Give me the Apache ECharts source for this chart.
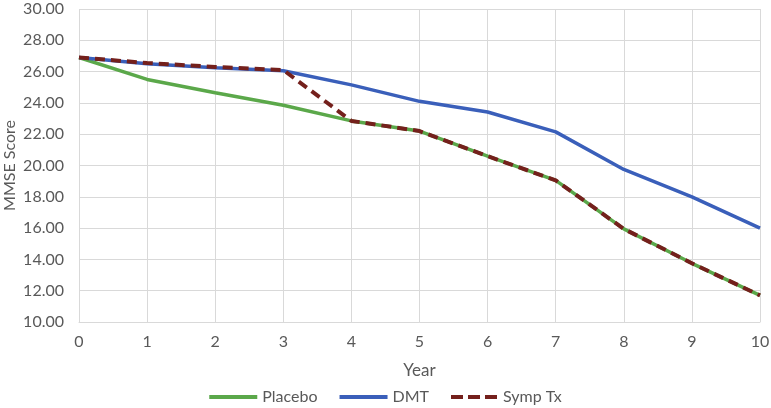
<!DOCTYPE html>
<html><head><meta charset="utf-8">
<script src="https://cdn.jsdelivr.net/npm/echarts@6/dist/echarts.min.js"></script>
<style>html,body{margin:0;padding:0;background:#fff}#c{width:771px;height:408px}</style>
</head><body><div id="c"></div>
<script>
const years = ['0','1','2','3','4','5','6','7','8','9','10'];
const placebo = [26.9, 25.5, 24.65, 23.85, 22.85, 22.2, 20.6, 19.05, 15.95, 13.75, 11.7];
const dmt = [26.9, 26.5, 26.25, 26.05, 25.15, 24.1, 23.42, 22.15, 19.75, 18.0, 16.0];
const sympTx = [26.9, 26.55, 26.3, 26.1, 22.85, 22.2, 20.6, 19.05, 15.95, 13.75, 11.7];
const font = 'Lato, "Open Sans", sans-serif';
const chart = echarts.init(document.getElementById('c'), null, {renderer:'canvas'});
chart.setOption({
  animation:false,
  textStyle:{fontFamily:font},
  grid:{left:79, right:11, top:9, bottom:86, containLabel:false, outerBoundsMode:'none'},
  xAxis:{type:'category', data:years, boundaryGap:false,
    name:'Year', nameLocation:'middle', nameGap:40, nameMoveOverlap:false,
    nameTextStyle:{color:'#595959', fontSize:17, fontFamily:font},
    axisLine:{lineStyle:{color:'#d9d9d9', width:1}}, axisTick:{show:false},
    axisLabel:{color:'#595959', fontSize:16, margin:12, fontFamily:font},
    splitLine:{show:true, lineStyle:{color:'#d9d9d9', width:1}}},
  yAxis:{type:'value', min:10, max:30, interval:2,
    name:'MMSE Score', nameLocation:'middle', nameGap:61, nameRotate:90, nameMoveOverlap:false,
    nameTextStyle:{color:'#595959', fontSize:16, fontFamily:font},
    axisLine:{show:false}, axisTick:{show:false},
    axisLabel:{color:'#595959', fontSize:16, margin:15, fontFamily:font, formatter:v=>v.toFixed(2)},
    splitLine:{lineStyle:{color:'#d9d9d9', width:1}}},
  legend:{bottom:-2, itemWidth:48, itemHeight:4, itemGap:22,
    textStyle:{color:'#595959', fontSize:16, fontFamily:font},
    data:[
      {name:'Placebo', icon:'rect'},
      {name:'DMT', icon:'rect'},
      {name:'Symp Tx', icon:'path://M0,0h12v4h-12z M17,0h12v4h-12z M34,0h12v4h-12z'}
    ]},
  series:[
    {name:'Placebo', type:'line', data:placebo, symbol:'none', lineStyle:{color:'#5BA84A', width:3.5}, itemStyle:{color:'#5BA84A'}},
    {name:'DMT', type:'line', data:dmt, symbol:'none', lineStyle:{color:'#3A5FBA', width:3.5}, itemStyle:{color:'#3A5FBA'}},
    {name:'Symp Tx', type:'line', data:sympTx, symbol:'none', lineStyle:{color:'#74201C', width:4, type:[10,6]}, itemStyle:{color:'#74201C'}}
  ]
});
</script></body></html>
